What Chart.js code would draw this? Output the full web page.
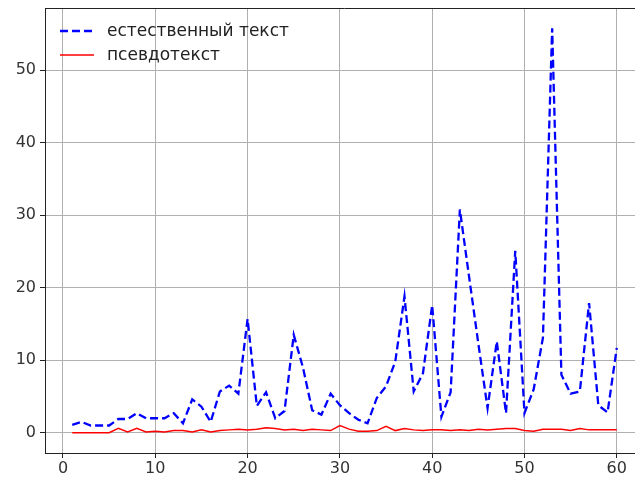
<!DOCTYPE html>
<html>
<head>
<meta charset="utf-8">
<script src="https://cdn.jsdelivr.net/npm/chart.js@4"></script>
<style>
html,body{margin:0;padding:0;background:#fff;}
#wrap{width:635px;height:477px;overflow:hidden;position:relative;}
canvas{display:block;}
</style>
</head>
<body>
<div id="wrap"><canvas id="c" width="645" height="477"></canvas></div>
<script>
const xValues = [1,2,3,4,5,6,7,8,9,10,11,12,13,14,15,16,17,18,19,20,21,22,23,24,25,26,27,28,29,30,31,32,33,34,35,36,37,38,39,40,41,42,43,44,45,46,47,48,49,50,51,52,53,54,55,56,57,58,59,60];
const naturalText = [1.1,1.5,1.0,1.0,1.0,1.9,1.9,2.7,2.0,2.0,2.0,2.7,1.3,4.6,3.6,1.5,5.7,6.5,5.4,15.7,3.7,5.6,2.0,3.0,13.5,9.0,3.1,2.5,5.4,3.8,2.7,1.8,1.3,4.8,6.4,9.8,18.8,5.7,8.2,17.6,2.2,5.6,30.8,21.5,12.3,3.4,12.6,2.7,25.1,2.7,6.0,13.1,55.8,8.0,5.4,5.7,17.9,3.8,2.8,11.7];
const pseudoText = [0,0,0,0,0,0.6,0.1,0.6,0.1,0.2,0.1,0.3,0.3,0.1,0.4,0.1,0.3,0.4,0.5,0.4,0.5,0.7,0.6,0.4,0.5,0.3,0.5,0.4,0.3,1.0,0.5,0.2,0.2,0.3,0.9,0.3,0.6,0.4,0.3,0.4,0.4,0.3,0.4,0.3,0.5,0.4,0.5,0.6,0.6,0.3,0.2,0.5,0.5,0.5,0.3,0.6,0.4,0.4,0.4,0.4];
const seriesLabels = ['естественный текст', 'псевдотекст'];
const xTicks = [0,10,20,30,40,50,60];
const yTicks = [0,10,20,30,40,50];

const FONT = 'DejaVu Sans';

const framePlugin = {
  id: 'frame',
  afterDatasetsDraw(chart) {
    const {ctx, chartArea: a} = chart;
    ctx.save();
    ctx.strokeStyle = '#222';
    ctx.lineWidth = 1;
    ctx.beginPath();
    ctx.moveTo(a.left, Math.round(a.top) + 0.5);
    ctx.lineTo(a.right, Math.round(a.top) + 0.5);
    ctx.stroke();
    ctx.restore();
  }
};

const legendPlugin = {
  id: 'innerLegend',
  afterDraw(chart) {
    const ctx = chart.ctx;
    ctx.save();
    const items = chart.data.datasets;
    const x0 = 60, x1 = 94, tx = 107;
    const ys = [31, 55];
    ctx.font = '17px "' + FONT + '"';
    ctx.textBaseline = 'middle';
    ctx.textAlign = 'left';
    items.forEach((ds, i) => {
      ctx.beginPath();
      ctx.strokeStyle = ds.borderColor;
      ctx.lineWidth = ds.borderWidth;
      ctx.setLineDash(ds.borderDash || []);
      ctx.moveTo(x0, ys[i]);
      ctx.lineTo(x1, ys[i]);
      ctx.stroke();
      ctx.setLineDash([]);
      ctx.fillStyle = '#222';
      ctx.fillText(ds.label, tx, ys[i] + 1);
    });
    ctx.restore();
  }
};

new Chart(document.getElementById('c'), {
  type: 'line',
  data: {
    datasets: [
      {
        label: seriesLabels[0],
        data: xValues.map((x, i) => ({x: x, y: naturalText[i]})),
        borderColor: '#0000ff',
        borderWidth: 2.3,
        borderDash: [8, 4],
        pointRadius: 0,
        tension: 0,
        fill: false,
        order: 1
      },
      {
        label: seriesLabels[1],
        data: xValues.map((x, i) => ({x: x, y: pseudoText[i]})),
        borderColor: '#ff0000',
        borderWidth: 1.5,
        pointRadius: 0,
        tension: 0,
        fill: false,
        order: 0
      }
    ]
  },
  options: {
    responsive: false,
    animation: false,
    devicePixelRatio: 1,
    layout: {padding: {top: 8, right: 1, left: 0, bottom: 0}},
    plugins: {legend: {display: false}, tooltip: {enabled: false}},
    scales: {
      x: {
        type: 'linear',
        min: -1.95,
        max: 62.95,
        afterBuildTicks: s => { s.ticks = xTicks.map(v => ({value: v})); },
        afterFit: s => { s.height = 24; s.paddingLeft = 0; s.paddingRight = 0; },
        grid: {color: '#b0b0b0', lineWidth: 1, tickColor: '#222', tickLength: 5, drawTicks: true},
        border: {display: true, color: '#222', width: 1},
        ticks: {color: '#333', font: {family: FONT, size: 16}, padding: 1, maxRotation: 0, autoSkip: false}
      },
      y: {
        type: 'linear',
        min: -2.79,
        max: 58.59,
        afterBuildTicks: s => { s.ticks = yTicks.map(v => ({value: v})); },
        afterFit: s => { s.width = 45; s.paddingTop = 0; s.paddingBottom = 0; },
        grid: {color: '#b0b0b0', lineWidth: 1, tickColor: '#222', tickLength: 5, drawTicks: true},
        border: {display: true, color: '#222', width: 1},
        ticks: {color: '#333', font: {family: FONT, size: 16}, padding: 4, autoSkip: false}
      }
    }
  },
  plugins: [framePlugin, legendPlugin]
});
</script>
</body>
</html>
